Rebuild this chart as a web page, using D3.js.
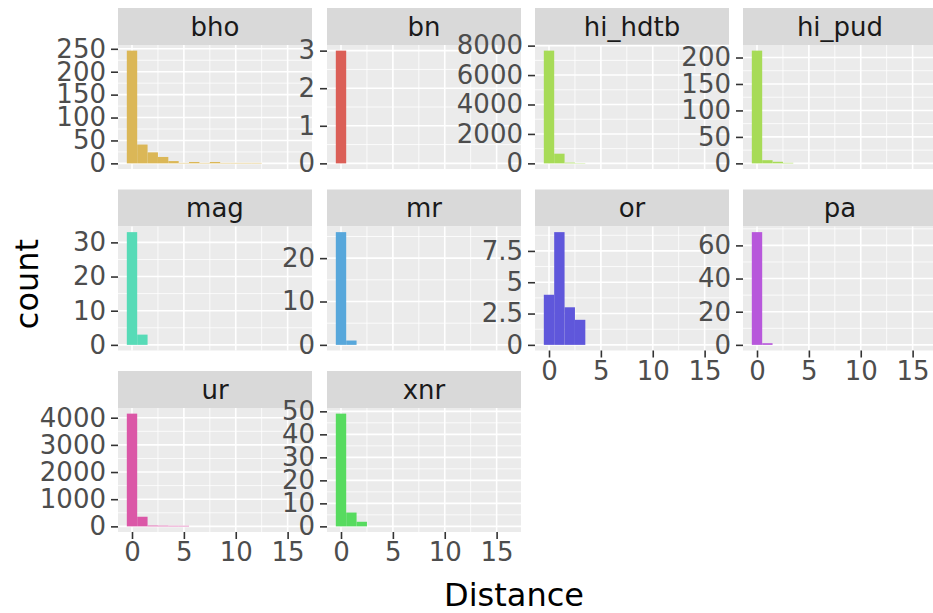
<!DOCTYPE html>
<html lang="en">
<head>
<meta charset="utf-8">
<title>Distance histograms</title>
<script src="https://cdn.jsdelivr.net/npm/d3@7"></script>
<style>
  body { margin: 0; background: #fff; }
  text { font-family: "DejaVu Sans", sans-serif; }
</style>
</head>
<body>
<div id="chart"></div>
<script>
// facets, in drawing order, and which fill level each one uses
var facets = ["bho", "bn", "hi_hdtb", "hi_pud", "mag", "mr", "or", "pa", "ur", "xnr"];
var fillLevel = [1, 0, 2, 2, 4, 5, 6, 7, 8, 3];

// counts per bin, bin k = Distance k (binwidth 1)
var bho     = [246, 41, 24, 14, 5, 1, 3, 1, 3, 1, 0, 1, 1, 0, 0, 0, 1];
var bn      = [3];
var hi_hdtb = [7660, 657, 50, 20];
var hi_pud  = [213, 6, 3, 1];
var mag     = [33, 3];
var mr      = [26, 1];
var or      = [4, 9, 3, 2];
var pa      = [68, 1];
var ur      = [4150, 354, 30, 25, 20, 0, 20];
var xnr     = [49, 6, 2];
var counts = [bho, bn, hi_hdtb, hi_pud, mag, mr, or, pa, ur, xnr];

// tick labels
var yTicks = [
  [0, 50, 100, 150, 200, 250],
  [0, 1, 2, 3],
  [0, 2000, 4000, 6000, 8000],
  [0, 50, 100, 150, 200],
  [0, 10, 20, 30],
  [0, 10, 20],
  [0, 2.5, 5, 7.5],
  [0, 20, 40, 60],
  [0, 1000, 2000, 3000, 4000],
  [0, 10, 20, 30, 40, 50]
];
var xTicks = [0, 5, 10, 15];
var xMinor = [2.5, 7.5, 12.5];

// layout
var w = 933, h = 613;
var colX = [118, 327, 535, 743];
var rowY = [8, 189.5, 371];
var pw = 194, stripH = 37, ph = 124;
var nBins = 17;
var smallFont = 26, bigFont = 32;

var svg = d3.select("#chart").append("svg")
            .attr("width", w)
            .attr("height", h);

var color = function(k){ return d3.hsl(3.6 + 40 * k, 0.65, 0.6).formatHex(); };

// shared x scale: bins from -0.5 to 16.5, 5% expansion
var span = nBins;
var xScale = d3.scaleLinear()
               .domain([-0.5 - span * 0.05, nBins - 0.5 + span * 0.05])
               .range([0, pw]);

var panels = [];
facets.forEach(function(name, i){
    var col = i % 4, row = Math.floor(i / 4);
    var px = colX[col], py = rowY[row] + stripH;
    var data = counts[i];
    var maxV = d3.max(data);
    var yScale = d3.scaleLinear()
                   .domain([-0.05 * maxV, 1.05 * maxV])
                   .range([ph, 0]);
    panels.push({name: name, i: i, px: px, py: py, y: yScale, row: row});

    // strip
    svg.append("rect")
       .attr("x", px).attr("y", rowY[row])
       .attr("width", pw).attr("height", stripH)
       .attr("fill", "#d9d9d9");
    svg.append("text")
       .attr("x", px + pw / 2).attr("y", rowY[row] + stripH / 2)
       .attr("dy", "0.36em")
       .attr("text-anchor", "middle")
       .attr("font-size", smallFont)
       .attr("fill", "#1a1a1a")
       .text(name);

    var g = svg.append("g").attr("transform", "translate(" + px + "," + py + ")");
    g.append("rect").attr("width", pw).attr("height", ph).attr("fill", "#ebebeb");

    // minor grid
    var step = yTicks[i][1] - yTicks[i][0];
    var yMinor = yTicks[i].map(function(t){ return t + step / 2; })
                          .filter(function(t){ return t <= yScale.domain()[1]; });
    g.selectAll("line.ymin").data(yMinor).enter().append("line")
     .attr("x1", 0).attr("x2", pw)
     .attr("y1", function(d){ return yScale(d); }).attr("y2", function(d){ return yScale(d); })
     .attr("stroke", "#fff").attr("stroke-width", 0.8);
    g.selectAll("line.xmin").data(xMinor).enter().append("line")
     .attr("y1", 0).attr("y2", ph)
     .attr("x1", function(d){ return xScale(d); }).attr("x2", function(d){ return xScale(d); })
     .attr("stroke", "#fff").attr("stroke-width", 0.8);
    // major grid
    g.selectAll("line.ymaj").data(yTicks[i]).enter().append("line")
     .attr("x1", 0).attr("x2", pw)
     .attr("y1", function(d){ return yScale(d); }).attr("y2", function(d){ return yScale(d); })
     .attr("stroke", "#fff").attr("stroke-width", 1.6);
    g.selectAll("line.xmaj").data(xTicks).enter().append("line")
     .attr("y1", 0).attr("y2", ph)
     .attr("x1", function(d){ return xScale(d); }).attr("x2", function(d){ return xScale(d); })
     .attr("stroke", "#fff").attr("stroke-width", 1.6);

    // bars
    g.selectAll("rect.bar").data(data).enter().append("rect")
     .filter(function(d){ return d > 0; })
     .attr("x", function(d, k){ return xScale(k - 0.5); })
     .attr("width", xScale(1) - xScale(0))
     .attr("y", function(d){ return yScale(d); })
     .attr("height", function(d){ return yScale(0) - yScale(d); })
     .attr("fill", color(fillLevel[i]));
});

// axes drawn last so labels sit on top of neighbouring panels
panels.forEach(function(p){
    var yAxis = d3.axisLeft(p.y)
                  .tickValues(yTicks[p.i])
                  .tickSize(7).tickPadding(5)
                  .tickFormat(function(d){ return String(d); });
    var ga = svg.append("g")
                .attr("transform", "translate(" + p.px + "," + p.py + ")")
                .call(yAxis);
    ga.select(".domain").remove();
    ga.selectAll("line").attr("stroke", "#333").attr("stroke-width", 1.6);
    ga.selectAll("text").attr("fill", "#4d4d4d").attr("font-size", smallFont)
      .attr("font-family", "DejaVu Sans");

    if (p.i + 4 >= facets.length) {
        var xAxis = d3.axisBottom(xScale)
                      .tickValues(xTicks)
                      .tickSize(7).tickPadding(4)
                      .tickFormat(function(d){ return String(d); });
        var gx = svg.append("g")
                    .attr("transform", "translate(" + p.px + "," + (p.py + ph) + ")")
                    .call(xAxis);
        gx.select(".domain").remove();
        gx.selectAll("line").attr("stroke", "#333").attr("stroke-width", 1.6);
        gx.selectAll("text").attr("fill", "#4d4d4d").attr("font-size", smallFont)
          .attr("font-family", "DejaVu Sans");
    }
});

// axis titles
svg.append("text")
   .attr("x", 514).attr("y", 606)
   .attr("text-anchor", "middle")
   .attr("font-size", bigFont)
   .text("Distance");
svg.append("text")
   .attr("transform", "translate(38,284) rotate(-90)")
   .attr("text-anchor", "middle")
   .attr("font-size", bigFont)
   .text("count");
</script>
</body>
</html>
